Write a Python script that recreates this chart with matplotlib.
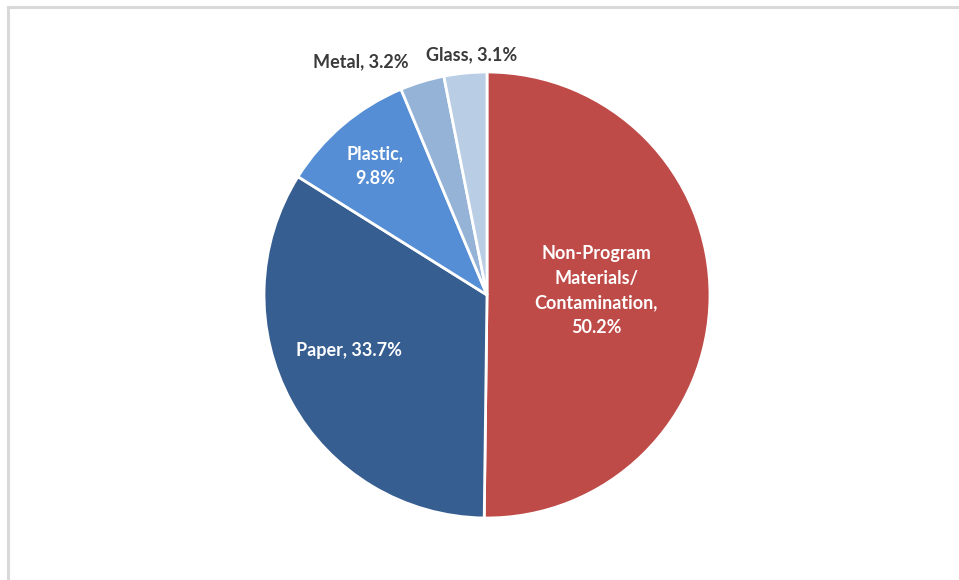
import matplotlib
matplotlib.use("Agg")
import matplotlib.pyplot as plt
from matplotlib.lines import Line2D

categories = ["Non-Program\nMaterials/\nContamination", "Paper", "Plastic", "Metal", "Glass"]
shares = [50.2, 33.7, 9.8, 3.2, 3.1]
colors = ["#BE4B48", "#375E90", "#558ED5", "#95B3D7", "#B9CDE5"]

label_text = [
    "Non-Program\nMaterials/\nContamination,\n50.2%",
    "Paper, 33.7%",
    "Plastic,\n9.8%",
    "Metal, 3.2%",
    "Glass, 3.1%",
]
label_pos = [(0.49, 0.02), (-0.62, -0.25), (-0.50, 0.58), (-0.565, 1.045), (-0.067, 1.078)]
label_color = ["white", "white", "white", "#3A3A3A", "#3A3A3A"]

plt.rcParams["font.family"] = ["Lato", "DejaVu Sans"]

W, H = 959, 580
fig = plt.figure(figsize=(W / 100, H / 100), dpi=100)
fig.patch.set_facecolor("white")

# thin grey frame along top and left
fig.add_artist(Line2D([7.5 / W, 1], [1 - 6.5 / H, 1 - 6.5 / H], color="#D9D9D9", lw=2.2))
fig.add_artist(Line2D([7.5 / W, 7.5 / W], [0, 1 - 6.5 / H], color="#D9D9D9", lw=2.2))

cx, cy, r = 487, 295, 223
ax = fig.add_axes([(cx - r) / W, (H - cy - r) / H, 2 * r / W, 2 * r / H])
ax.pie(
    shares,
    colors=colors,
    startangle=90,
    counterclock=False,
    radius=1,
    wedgeprops=dict(edgecolor="white", linewidth=2.0),
)
ax.set_xlim(-1, 1)
ax.set_ylim(-1, 1)
ax.set_aspect("equal")
ax.axis("off")

for txt, (x, y), c in zip(label_text, label_pos, label_color):
    ax.text(x, y, txt, ha="center", va="center", color=c, fontsize=13,
            fontweight="bold", linespacing=1.55)

fig.savefig("out.png", dpi=100, facecolor="white")
